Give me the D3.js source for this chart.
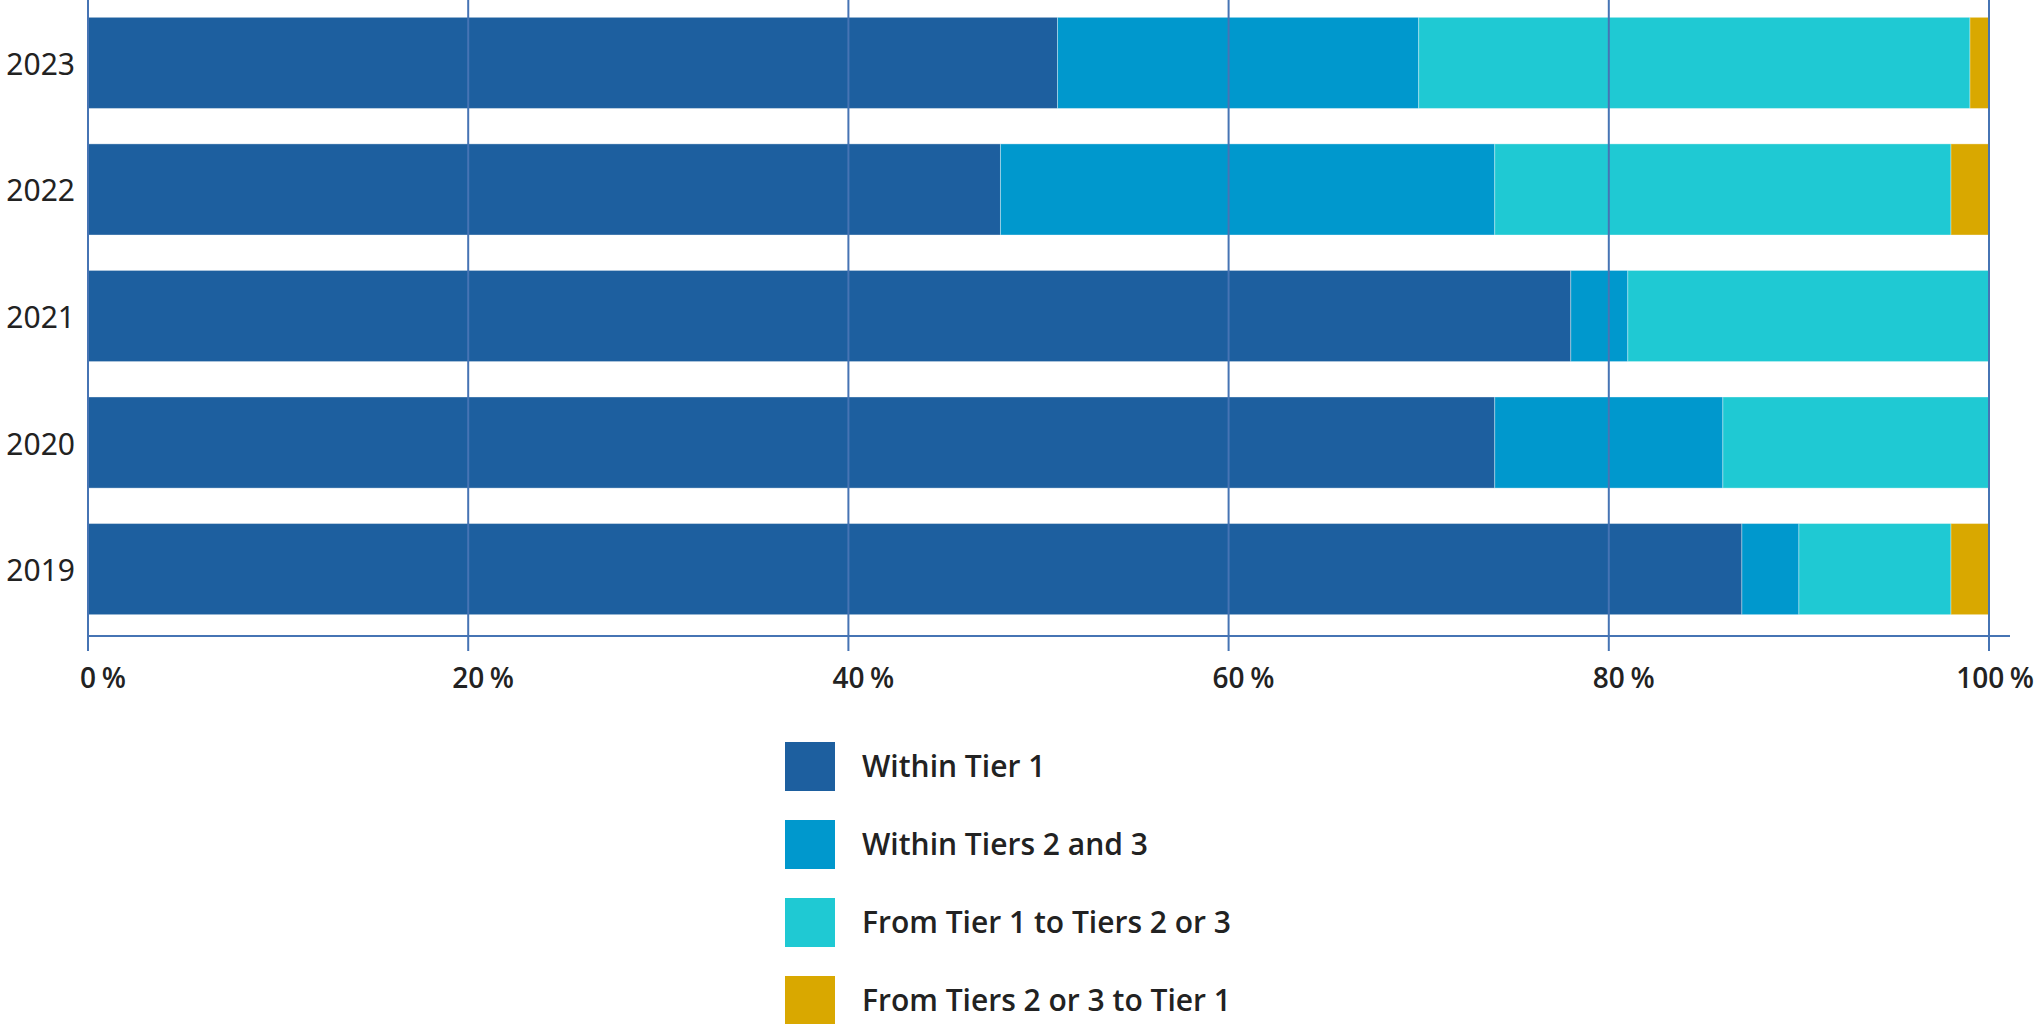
<!DOCTYPE html>
<html>
<head>
<meta charset="utf-8">
<script src="https://cdn.jsdelivr.net/npm/d3@7"></script>
<style>
  html, body { margin: 0; padding: 0; background: #fff; }
  svg { display: block; }
  text { font-family: "Noto Sans", "Open Sans", sans-serif; fill: #222; }
  .semi { font-family: "Open Sans", "Noto Sans", sans-serif; }
</style>
</head>
<body>
<svg id="chart" width="2042" height="1024"></svg>
<script>
// ---- data ----
const years = ["2023", "2022", "2021", "2020", "2019"];
const withinTier1 = [51, 48, 78, 74, 87];
const withinTiers23 = [19, 26, 3, 12, 3];
const tier1ToTiers23 = [29, 24, 19, 14, 8];
const tiers23ToTier1 = [1, 2, 0, 0, 2];
const seriesNames = ["Within Tier 1", "Within Tiers 2 and 3", "From Tier 1 to Tiers 2 or 3", "From Tiers 2 or 3 to Tier 1"];
const seriesColors = ["#1d5f9f", "#0098cd", "#1fc9d3", "#d9a800"];
const tickValues = [0, 20, 40, 60, 80, 100];
const tickLabels = ["0", "20", "40", "60", "80", "100"];

// table for stacking
const seriesKeys = ["s0", "s1", "s2", "s3"];
const table = years.map((y, i) => ({
  year: y, s0: withinTier1[i], s1: withinTiers23[i], s2: tier1ToTiers23[i], s3: tiers23ToTier1[i]
}));

const svg = d3.select("#chart");
const x = d3.scaleLinear().domain([0, 100]).range([88, 1989]);
const y = d3.scaleBand().domain(years).range([0, 632]).paddingInner(0.28).paddingOuter(0.137);
const color = d3.scaleOrdinal().domain(seriesKeys).range(seriesColors);

const stack = d3.stack().keys(seriesKeys)(table);

// bars
svg.append("g").selectAll("g").data(stack).join("g")
  .attr("fill", d => color(d.key))
  .selectAll("rect").data(d => d).join("rect")
  .attr("x", d => x(d[0]))
  .attr("y", d => y(d.data.year))
  .attr("width", d => Math.max(0, x(d[1]) - x(d[0])))
  .attr("height", y.bandwidth())
  .attr("stroke", "rgba(255,255,255,0.35)")
  .attr("stroke-width", 1);

const axisY = 636;
const gridColor = "#4674b4";

// vertical gridlines (over bars) with ticks below the axis
svg.append("g").selectAll("line").data(tickValues).join("line")
  .attr("x1", d => x(d)).attr("x2", d => x(d))
  .attr("y1", 0).attr("y2", axisY + 15)
  .attr("stroke", gridColor).attr("stroke-width", 2);

// horizontal axis line
svg.append("line")
  .attr("x1", x(0)).attr("x2", 2010)
  .attr("y1", axisY).attr("y2", axisY)
  .attr("stroke", gridColor).attr("stroke-width", 2);

// tick labels: number centered on tick, " %" hanging right
const tl = svg.append("g").selectAll("text").data(tickValues).join("text")
  .attr("class", "semi")
  .attr("y", 688)
  .attr("font-size", 28)
  .attr("font-weight", 600)
  .attr("text-anchor", "start");
tl.append("tspan").text((d, i) => tickLabels[i]);
tl.append("tspan").attr("dx", 2).text("\u202f%");
tl.each(function(d, i) {
  const t = d3.select(this);
  const w = this.getSubStringLength(0, tickLabels[i].length);
  const total = this.getComputedTextLength() + 2;
  let left = x(d) - w / 2;
  if (left + total > 2034) left = 2034 - total;
  t.attr("x", left);
});

// year labels
svg.append("g").selectAll("text").data(years).join("text")
  .attr("x", 75)
  .attr("y", d => y(d) + y.bandwidth() / 2)
  .attr("dy", "0.4em")
  .attr("text-anchor", "end")
  .attr("font-size", 30)
  .text(d => d);

// legend
const legendTops = [742, 820, 898, 976];
const lg = svg.append("g").selectAll("g").data(seriesNames).join("g")
  .attr("transform", (d, i) => `translate(785,${legendTops[i]})`);
lg.append("rect").attr("width", 50).attr("height", 49)
  .attr("fill", (d, i) => seriesColors[i]);
lg.append("text").attr("class", "semi").attr("x", 77).attr("y", 24.5).attr("dy", "0.36em")
  .attr("font-size", 30).attr("font-weight", 600)
  .text(d => d);
</script>
</body>
</html>
